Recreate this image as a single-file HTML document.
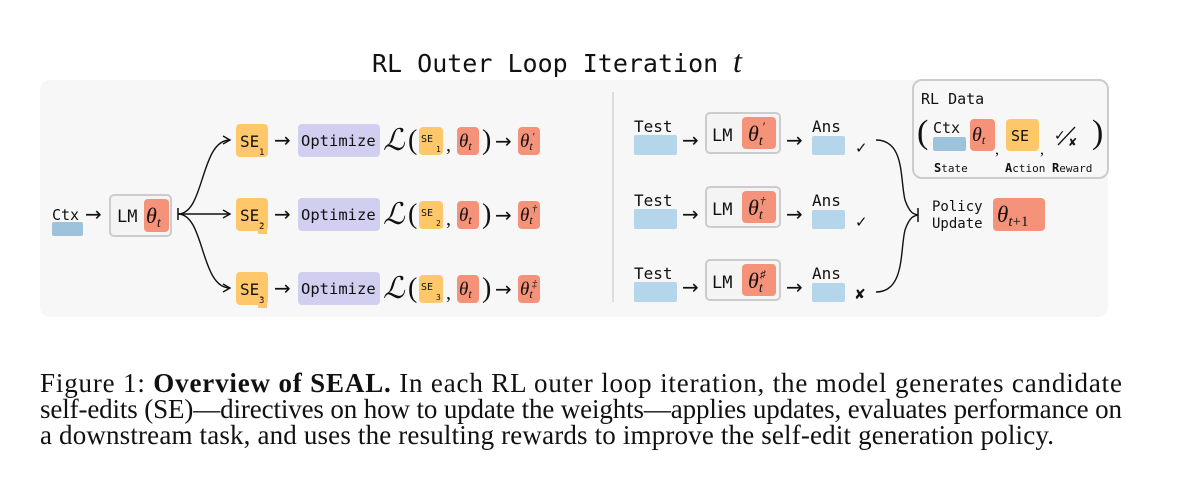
<!DOCTYPE html>
<html><head><meta charset="utf-8"><style>
html,body{margin:0;padding:0;background:#fff;width:1200px;height:493px;overflow:hidden}
</style></head><body>
<svg width="1200" height="493" viewBox="0 0 1200 493" xmlns="http://www.w3.org/2000/svg">
<defs>
<marker id="ah" markerWidth="10" markerHeight="10" refX="8" refY="5" orient="auto" markerUnits="userSpaceOnUse">
<path d="M1,1 L8,5 L1,9" fill="none" stroke="#111" stroke-width="1.4"/>
</marker>
</defs>
<style>
.m{font-family:"DejaVu Sans Mono","Liberation Mono",monospace;fill:#111}
.th{font-family:"Liberation Serif",serif;font-style:italic;fill:#111}
.ar{font-family:"DejaVu Sans",sans-serif;fill:#111}
.cap{font-family:"Liberation Serif",serif;font-size:27px;fill:#111}
</style>
<text x="372" y="72" class="m" font-size="25">RL Outer Loop Iteration</text>
<text x="733" y="72" class="th" font-size="32">t</text>
<rect x="40" y="80" width="1068" height="237" rx="10" fill="#f7f7f7"/>
<line x1="613" y1="92" x2="613" y2="302" stroke="#ddd" stroke-width="2"/>

<!-- left -->
<text x="52" y="220" class="m" font-size="15">Ctx</text>
<rect x="52" y="222" width="31" height="14" rx="2" fill="#9cc3db"/>
<text x="85" y="221" class="ar" font-size="20">→</text>
<rect x="110" y="195" width="61" height="41" rx="4" fill="#f4f4f4" stroke="#ccc" stroke-width="2"/>
<text x="117" y="222" class="m" font-size="17">LM</text>
<rect x="144" y="199" width="25" height="33" rx="4" fill="#f5927a"/>
<text x="146" y="223" class="th" font-size="22">θ<tspan font-size="14" dy="4">t</tspan></text>
<!-- branches -->
<line x1="178" y1="208" x2="178" y2="220" stroke="#111" stroke-width="1.5"/>
<path d="M178,214 C205,214 200,140 230,140" fill="none" stroke="#111" stroke-width="1.4" marker-end="url(#ah)"/>
<path d="M178,214 L230,214" fill="none" stroke="#111" stroke-width="1.4" marker-end="url(#ah)"/>
<path d="M178,214 C205,214 200,288 230,288" fill="none" stroke="#111" stroke-width="1.4" marker-end="url(#ah)"/>

<g id="r1">
<rect x="236" y="124" width="32" height="33" rx="4" fill="#fdc76a"/>
<text x="240" y="147" class="m" font-size="16">SE</text><text x="259" y="155" class="m" font-size="9">1</text>
<text x="274" y="147" class="ar" font-size="20">→</text>
<rect x="298" y="124" width="82" height="33" rx="4" fill="#d1cff0"/>
<text x="301" y="146" class="m" font-size="15.5">Optimize</text>
<text x="383" y="150" font-family="Liberation Serif,serif" font-style="italic" font-size="30" fill="#111">ℒ</text>
<text x="408" y="149" font-family="Liberation Serif,serif" font-size="28" fill="#111">(</text>
<rect x="419" y="127" width="24" height="28" rx="4" fill="#fdc76a"/>
<text x="421" y="142" class="m" font-size="10">SE</text><text x="436" y="152" class="m" font-size="8">1</text>
<text x="446" y="151" font-family="Liberation Serif,serif" font-size="20" fill="#111">,</text>
<rect x="457" y="127" width="22" height="28" rx="4" fill="#f5927a"/>
<text x="459" y="147" class="th" font-size="19">θ<tspan font-size="12" dy="3">t</tspan></text>
<text x="482" y="149" font-family="Liberation Serif,serif" font-size="28" fill="#111">)</text>
<text x="495" y="148" class="ar" font-size="20">→</text>
<rect x="518" y="127" width="22" height="28" rx="4" fill="#f5927a"/>
<text x="520" y="147" class="th" font-size="19">θ<tspan font-size="12" dy="3">t</tspan></text>
</g>
<text x="532" y="140" class="th" font-size="11">′</text>
<use href="#r1" y="74"/>
<text x="532" y="212" class="th" font-size="10">†</text>
<use href="#r1" y="148"/>
<text x="532" y="287" class="th" font-size="10">‡</text>
<rect x="258" y="224" width="9" height="10" fill="#fdc76a"/><text x="259" y="229" class="m" font-size="9">2</text>
<rect x="436" y="218" width="7" height="10" fill="#fdc76a"/><text x="436" y="226" class="m" font-size="8">2</text>
<rect x="258" y="298" width="9" height="10" fill="#fdc76a"/><text x="259" y="303" class="m" font-size="9">3</text>
<rect x="436" y="292" width="7" height="10" fill="#fdc76a"/><text x="436" y="300" class="m" font-size="8">3</text>

<!-- right -->
<g id="q1">
<text x="634" y="132" class="m" font-size="16">Test</text>
<rect x="634" y="135" width="43" height="20" rx="2" fill="#b4d5ea"/>
<text x="682" y="147" class="ar" font-size="20">→</text>
<rect x="706" y="113" width="74" height="40" rx="4" fill="#f4f4f4" stroke="#ccc" stroke-width="2"/>
<text x="712" y="141" class="m" font-size="17">LM</text>
<rect x="742" y="117" width="34" height="32" rx="4" fill="#f5927a"/>
<text x="748" y="141" class="th" font-size="22">θ<tspan font-size="14" dy="4">t</tspan></text>
<text x="786" y="147" class="ar" font-size="20">→</text>
<text x="812" y="132" class="m" font-size="16">Ans</text>
<rect x="812" y="136" width="33" height="19" rx="2" fill="#b4d5ea"/>
</g>
<text x="762" y="131" class="th" font-size="13">′</text>
<use href="#q1" y="74"/>
<text x="760" y="204" class="th" font-size="11">†</text>
<use href="#q1" y="147"/>
<text x="760" y="278" class="th" font-size="11">♯</text>
<text x="855" y="153" class="ar" font-size="15" font-weight="bold">✓</text>
<text x="855" y="227" class="ar" font-size="15" font-weight="bold">✓</text>
<text x="854" y="299" class="ar" font-size="14" font-weight="bold">✘</text>
<!-- brace -->
<path d="M876,140 C905,140 900,180 905,200 C910,214 914,214 918,215 M876,292 C905,292 900,250 905,230 C910,216 914,216 918,215" fill="none" stroke="#111" stroke-width="1.4"/>
<line x1="918" y1="208" x2="918" y2="222" stroke="#111" stroke-width="1.5"/>
<text x="932" y="211" class="m" font-size="14">Policy</text>
<text x="932" y="228" class="m" font-size="14">Update</text>
<rect x="993" y="198" width="52" height="33" rx="4" fill="#f5927a"/>
<text x="997" y="222" class="th" font-size="23">θ<tspan font-size="15" dy="4" font-style="italic">t</tspan><tspan font-size="15" font-style="normal">+1</tspan></text>
<!-- RL Data -->
<rect x="913" y="80" width="195" height="98" rx="9" fill="#f7f7f7" stroke="#ccc" stroke-width="2"/>
<text x="921" y="104" class="m" font-size="15">RL Data</text>
<text x="917" y="143" font-family="Liberation Serif,serif" font-size="34" fill="#111">(</text>
<text x="1092" y="143" font-family="Liberation Serif,serif" font-size="34" fill="#111">)</text>
<text x="933" y="133" class="m" font-size="15">Ctx</text>
<rect x="933" y="137" width="33" height="14" rx="2" fill="#9cc3db"/>
<rect x="970" y="119" width="25" height="32" rx="4" fill="#f5927a"/>
<text x="972" y="141" class="th" font-size="20">θ<tspan font-size="12" dy="3">t</tspan></text>
<text x="995" y="154" font-family="Liberation Serif,serif" font-size="16" fill="#111">,</text>
<rect x="1006" y="119" width="33" height="32" rx="4" fill="#fdc76a"/>
<text x="1011" y="141" class="m" font-size="15">SE</text>
<text x="1040" y="154" font-family="Liberation Serif,serif" font-size="16" fill="#111">,</text>
<text x="1054" y="140" class="ar" font-size="14" font-weight="bold">✓</text>
<line x1="1058" y1="145" x2="1075" y2="127" stroke="#111" stroke-width="1.3"/>
<text x="1068" y="146" class="ar" font-size="11" font-weight="bold">✘</text>
<text x="934" y="172" class="m" font-size="11"><tspan font-weight="bold" font-size="12">S</tspan>tate</text>
<text x="1005" y="172" class="m" font-size="11"><tspan font-weight="bold" font-size="12">A</tspan>ction <tspan font-weight="bold" font-size="12">R</tspan>eward</text>

<!-- caption -->
<text x="40" y="392" class="cap" textLength="1082" lengthAdjust="spacing">Figure 1: <tspan font-weight="bold">Overview of SEAL.</tspan> In each RL outer loop iteration, the model generates candidate</text>
<text x="40" y="418" class="cap" textLength="1082" lengthAdjust="spacing">self-edits (SE)—directives on how to update the weights—applies updates, evaluates performance on</text>
<text x="40" y="444" class="cap" textLength="1014" lengthAdjust="spacing">a downstream task, and uses the resulting rewards to improve the self-edit generation policy.</text>
</svg>
</body></html>
